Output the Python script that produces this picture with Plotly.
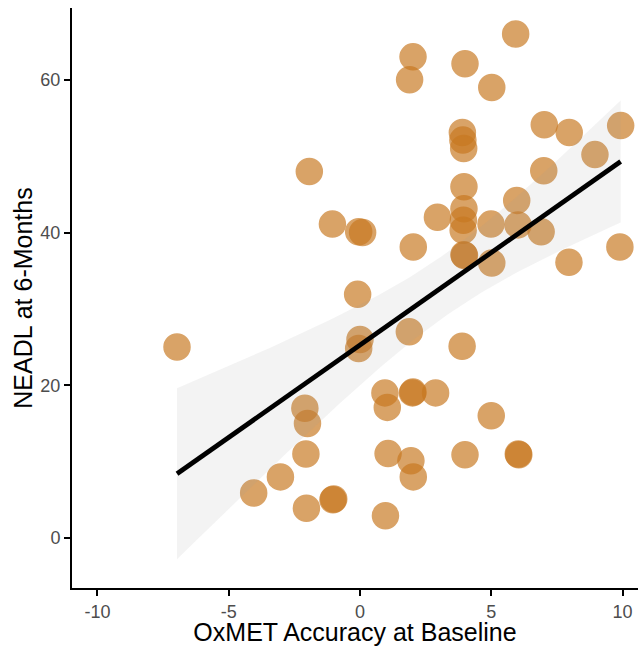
import numpy as np
import plotly.graph_objects as go

# OxMET accuracy at baseline (x) and NEADL at 6 months (y)
oxmet = [-6.97, -4.05, -3.03, -2.04, -2.06, -2.0, -2.1, -1.93, -1.05, -1.03, -1.0,
         -0.05, 0.1, -0.09, 0.0, -0.05, 0.95, 1.04, 1.07, 0.97, 1.88, 1.89, 2.02,
         2.03, 2.0, 2.02, 1.94, 2.03, 2.88, 2.95,
         3.9, 3.92, 3.95, 3.96, 3.96, 3.94, 3.93, 3.96, 3.98, 3.89, 4.0, 4.0,
         5.0, 5.02, 4.99, 5.02, 5.93, 5.97, 6.02, 6.03, 6.05,
         6.9, 7.0, 7.02, 7.96, 7.97, 8.95, 9.93, 9.9]
neadl = [25, 5.9, 8, 3.9, 11, 15, 17, 48, 41.1, 5, 5.1,
         40.1, 40, 31.9, 26, 24.8, 19, 17.1, 11.05, 2.9, 27, 60, 63,
         38.1, 19, 19.1, 10.1, 8, 19, 42,
         53.1, 52.1, 51, 46, 43.1, 41.6, 40.3, 37.1, 37, 25.1, 10.9, 62.1,
         16, 36, 41.1, 59, 66, 44.2, 41, 11, 10.9,
         40.1, 48.1, 54.1, 36.1, 53.1, 50.2, 54, 38.1]

# linear smooth: fitted values at the ends of the data range
smooth_x = [-6.97, 9.93]
smooth_fit = [8.4, 49.3]
# half-width of the confidence band read at three x positions
band_x = [-6.97, 0.4, 9.93]
band_half = [11.2, 5.0, 8.0]

x_ticks = [-10, -5, 0, 5, 10]
y_ticks = [0, 20, 40, 60]

# line of the smooth
slope = (smooth_fit[1] - smooth_fit[0]) / (smooth_x[1] - smooth_x[0])
icpt = smooth_fit[0] - slope * smooth_x[0]
xs = np.linspace(smooth_x[0], smooth_x[1], 80)
fit = icpt + slope * xs

# band of an lm fit: half-width^2 = a + b (x - c)^2, solved from the three readings
x1, x2, x3 = band_x
h1, h2, h3 = [v ** 2 for v in band_half]
A1, B1 = x1 ** 2 - x2 ** 2, -2 * (x1 - x2)
A3, B3 = x3 ** 2 - x2 ** 2, -2 * (x3 - x2)
r = (h1 - h2) / (h3 - h2)
c = (r * A3 - A1) / (B1 - r * B3)
b = (h3 - h2) / (A3 + B3 * c)
a = h2 - b * (x2 - c) ** 2
half = np.sqrt(a + b * (xs - c) ** 2)
upper = fit + half
lower = fit - half

fig = go.Figure()
fig.add_trace(go.Scatter(
    x=oxmet, y=neadl, mode="markers",
    marker=dict(size=26, color="rgb(200,120,32)", opacity=0.68,
                line=dict(color="rgb(200,120,32)", width=1.5)),
    showlegend=False, hoverinfo="skip"))
fig.add_trace(go.Scatter(
    x=np.concatenate([xs, xs[::-1]]), y=np.concatenate([upper, lower[::-1]]),
    fill="toself", fillcolor="rgba(153,153,153,0.12)", line=dict(width=0),
    mode="lines", showlegend=False, hoverinfo="skip"))
fig.add_trace(go.Scatter(
    x=xs, y=fit, mode="lines", line=dict(color="black", width=4.8),
    showlegend=False, hoverinfo="skip"))

axis_common = dict(
    showgrid=False, zeroline=False, showline=True, linecolor="black", linewidth=2,
    ticks="outside", ticklen=6, tickwidth=2, tickcolor="black",
    tickfont=dict(family="Liberation Sans, Arial", size=18, color="#4D4D4D"),
)
fig.update_layout(
    width=638, height=646,
    margin=dict(l=72, r=0, t=8, b=58),
    paper_bgcolor="white", plot_bgcolor="white",
    xaxis=dict(range=[-10.97, 10.59], tickvals=x_ticks,
               ticktext=[str(v) for v in x_ticks],
               title=dict(text="OxMET Accuracy at Baseline", standoff=6,
                          font=dict(family="Liberation Sans, Arial", size=25, color="black")),
               **axis_common),
    yaxis=dict(range=[-6.55, 69.4], tickvals=y_ticks,
               ticktext=[str(v) for v in y_ticks],
               title=dict(text="NEADL at 6-Months", standoff=1,
                          font=dict(family="Liberation Sans, Arial", size=25, color="black")),
               **axis_common),
)
fig.write_html(
    "out.html",
    config={"displayModeBar": False},
    post_script="document.body.style.margin='0';document.body.style.overflow='hidden';",
)
